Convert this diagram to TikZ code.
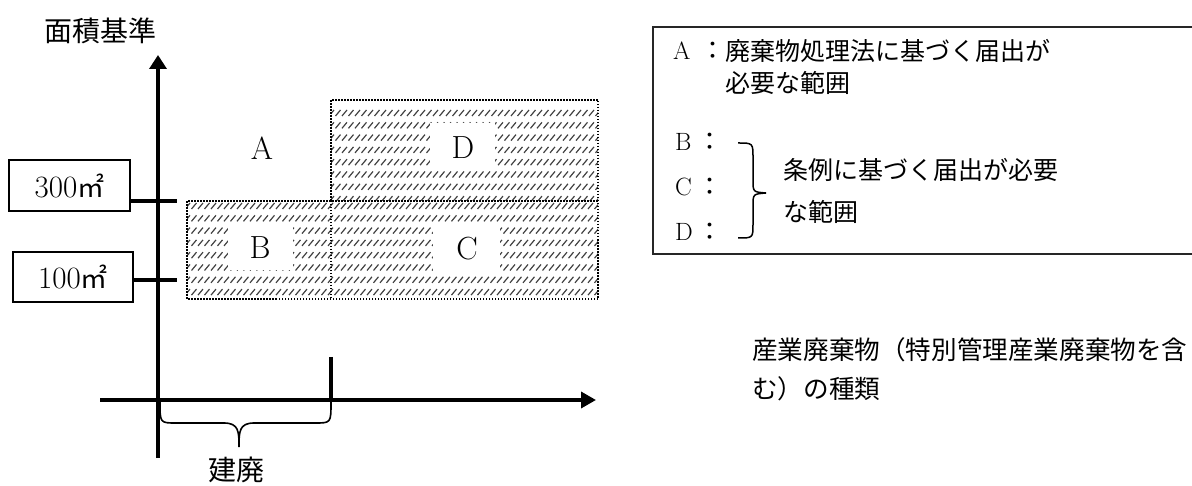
\documentclass[tikz,border=0pt]{standalone}
\usepackage{fontspec}
\newfontfamily\cjk{Noto Sans CJK JP}
\usetikzlibrary{arrows.meta}
\newcommand\hatcharea[6]{% x1 y1 x2 y2 firstrow ncols
  \begin{scope}
    \clip (#1,#2) rectangle (#3,#4);
    \foreach \hr in {0,...,8}{
      \foreach \hc in {0,...,#6}{
        \draw[hatchline] ({#1+\hc*6.5-2},{#5+\hr*12.3+3}) -- ++(5,-6);
      }
    }
  \end{scope}}
\begin{document}
\begin{tikzpicture}[x=1pt,y=-1pt,
  axisline/.style={line width=3.5pt},
  hatchline/.style={black!75,line width=1.2pt},
  dotborder/.style={line width=1.5pt,dash pattern=on 1.5pt off 1.5pt},
  knock/.style={fill=white},
  bigletter/.style={inner sep=0pt,font=\fontsize{32}{32}\selectfont},
  valbox/.style={draw,line width=1.3pt,minimum width=121pt,minimum height=51pt,inner sep=0pt,font=\fontsize{31}{31}\selectfont},
  axtitle/.style={inner sep=0pt,font=\cjk\fontsize{28}{28}\selectfont},
  legtext/.style={inner sep=0pt,anchor=west,font=\cjk\fontsize{25}{25}\selectfont},
  legletter/.style={inner sep=0pt,anchor=west,font=\fontsize{25}{25}\selectfont},
  legcolon/.style={inner sep=0pt,font=\cjk\fontsize{25}{25}\selectfont},
  righttext/.style={inner sep=0pt,anchor=west,font=\cjk\fontsize{25.6}{25.6}\selectfont},
  bracestyle/.style={line width=1.6pt},
  framestyle/.style={line width=2pt,black!85}
]
\useasboundingbox (0,0) rectangle (1192,486);

% hatched regions
\hatcharea{331}{100}{598}{201}{113}{42}
\hatcharea{187}{201}{598}{299}{206}{64}

% knockouts behind letters
\fill[knock] (228,222) rectangle (293,270);
\fill[knock] (433,222) rectangle (500,272);
\fill[knock] (430,123) rectangle (495,170);

% dotted borders (no overlapping segments)
\draw[dotborder] (331,201) -- (331,100) -- (598,100) -- (598,299) -- (187,299) -- (187,201) -- (598,201);
\draw[dotborder] (331,201) -- (331,299);

% region labels
\node[bigletter] (lA) at (262,148) {A};
\node[bigletter] (lB) at (260,248) {B};
\node[bigletter] (lC) at (467,249) {C};
\node[bigletter] (lD) at (463,148) {D};

% axes
\coordinate (yb) at (158,458);
\coordinate (yt) at (158,55);
\coordinate (xl) at (100,400);
\coordinate (xr) at (596,400);
\draw[axisline,-{Triangle[length=14pt,width=17pt]}] (yb) -- (yt);
\draw[axisline,-{Triangle[length=15pt,width=16pt]}] (xl) -- (xr);
\coordinate (kt) at (331,357);
\coordinate (kb) at (331,402);
\draw[axisline] (kt) -- (kb);

% value boxes and ticks
\node[valbox] (b300) at (69.5,185.5) {300{\cjk\fontsize{27}{27}\selectfont ㎡}};
\node[valbox,minimum width=120pt,minimum height=50pt] (b100) at (73,277) {100{\cjk\fontsize{27}{27}\selectfont ㎡}};
\coordinate (t300) at (177,201);
\coordinate (t100) at (177,280);
\draw[axisline] (b300.east |- t300) -- (t300);
\draw[axisline] (b100.east |- t100) -- (t100);

% axis titles
\node[axtitle] (ytitle) at (100,31) {面積基準};
\node[axtitle] (btitle) at (236,470) {建廃};

% brace under x axis
\coordinate (bl) at (160,402);
\coordinate (br) at (331,402);
\draw[bracestyle] (bl) .. controls (160,423) and (160,423) .. (176,423) -- (224,423)
  .. controls (239,423) and (239,432) .. (239,447)
  .. controls (239,432) and (239,423) .. (254,423) -- (315,423)
  .. controls (331,423) and (331,423) .. (br);

% right text
\node[righttext] (rt1) at (752,350) {産業廃棄物（特別管理産業廃棄物を含};
\node[righttext] (rt2) at (752,389) {む）の種類};

% legend frame
\draw[framestyle] (1195,27) -- (653,27) -- (653,254) -- (1195,254);

% legend entries
\node[legletter] (gA) at (673,51) {A};
\node[legcolon] (cA) at (713,51) {：};
\node[legtext] (tA1) at (725,51) {廃棄物処理法に基づく届出が};
\node[legtext] (tA2) at (725,83) {必要な範囲};
\node[legletter] (gB) at (675,142) {B};
\node[legcolon] (cB) at (710,142) {：};
\node[legletter] (gC) at (675,187) {C};
\node[legcolon] (cC) at (710,187) {：};
\node[legletter] (gD) at (675,232) {D};
\node[legcolon] (cD) at (710,232) {：};
\draw[bracestyle,line width=1.5pt] (738,143) .. controls (753,143) .. (753,158) -- (753,180)
  .. controls (753,192) .. (766,193)
  .. controls (753,194) .. (753,206) -- (753,224)
  .. controls (753,238) .. (738,238);
\node[legtext] (tB1) at (783,170) {条例に基づく届出が必要};
\node[legtext] (tB2) at (783,212) {な範囲};
\end{tikzpicture}
\end{document}
